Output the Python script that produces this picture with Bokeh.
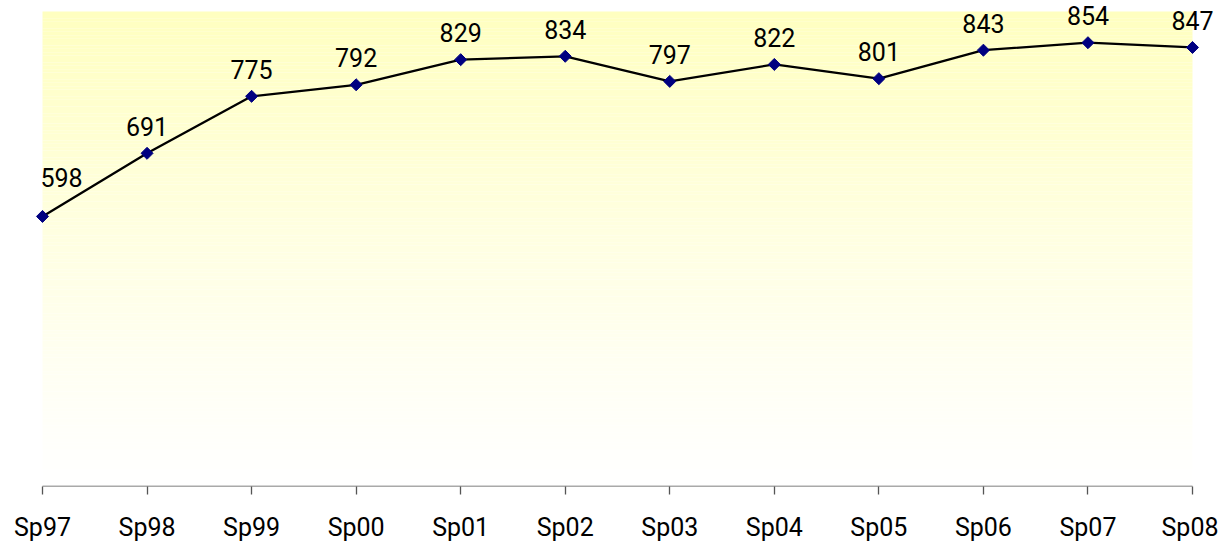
from bokeh.plotting import figure
from bokeh.models import Range1d, FixedTicker, ColumnDataSource
from bokeh.core.properties import value
from bokeh.embed import file_html
from bokeh.resources import INLINE

categories = ["Sp97", "Sp98", "Sp99", "Sp00", "Sp01", "Sp02", "Sp03", "Sp04",
              "Sp05", "Sp06", "Sp07", "Sp08"]
values = [598, 691, 775, 792, 829, 834, 797, 822, 801, 843, 854, 847]

FONT = "Roboto"
Y_MIN, Y_MAX = 200, 900

xs = list(range(len(categories)))
n = len(categories) - 1

p = figure(width=1218, height=544, output_backend="svg", toolbar_location=None,
           x_range=Range1d(-0.2870, n + 0.2487), y_range=Range1d(Y_MIN, 916.2),
           y_axis_location=None, min_border_left=12, min_border_right=0,
           min_border_top=0, min_border_bottom=58)
p.outline_line_color = None
p.xgrid.grid_line_color = None
p.ygrid.grid_line_color = None
p.background_fill_color = "white"
p.border_fill_color = "white"

# gradient background (pale yellow at top -> white at bottom)
steps = 140
bots, tops, cols = [], [], []
top_rgb = (255, 255, 192)
for i in range(steps):
    b = Y_MIN + (Y_MAX - Y_MIN) * i / steps
    t = Y_MIN + (Y_MAX - Y_MIN) * (i + 1) / steps
    f = ((i + 0.5) / steps) ** 1.15
    c = tuple(int(round(255 + (tc - 255) * f)) for tc in top_rgb)
    bots.append(b); tops.append(t); cols.append("#%02x%02x%02x" % c)
p.quad(left=0, right=n, bottom=bots, top=tops, fill_color=cols, line_color=None)

# axis line
p.segment(x0=[0], y0=[Y_MIN], x1=[n], y1=[Y_MIN], line_color="#555555", line_width=1.3)

src = ColumnDataSource(dict(x=xs, y=values, lbl=[str(v) for v in values]))
p.line("x", "y", source=src, line_color="black", line_width=2.3)
p.scatter("x", "y", source=src, marker="square", angle=0.785398, size=8.5,
          fill_color="#000080", line_color="#000080")

# data labels
first = ColumnDataSource(dict(x=xs[:1], y=values[:1], lbl=[str(v) for v in values[:1]]))
rest = ColumnDataSource(dict(x=xs[1:], y=values[1:], lbl=[str(v) for v in values[1:]]))
p.text("x", "y", text="lbl", source=first, text_align="left", text_baseline="alphabetic",
       x_offset=-2, y_offset=-39, text_font=value(FONT), text_font_size="25px",
       text_color="black")
p.text("x", "y", text="lbl", source=rest, text_align="center", text_baseline="alphabetic",
       x_offset=0, y_offset=-27, text_font=value(FONT), text_font_size="25px",
       text_color="black")

ax = p.xaxis[0]
ax.ticker = FixedTicker(ticks=xs)
ax.major_label_overrides = {i: c for i, c in zip(xs, categories)}
ax.axis_line_color = None
ax.major_tick_line_color = "#555555"
ax.major_tick_line_width = 1.3
ax.major_tick_in = 0
ax.major_tick_out = 8
ax.minor_tick_line_color = None
ax.major_label_standoff = 18
ax.major_label_text_font = FONT
ax.major_label_text_font_size = "25px"
ax.major_label_text_color = "black"

open("out.html", "w").write(file_html(p, INLINE))
